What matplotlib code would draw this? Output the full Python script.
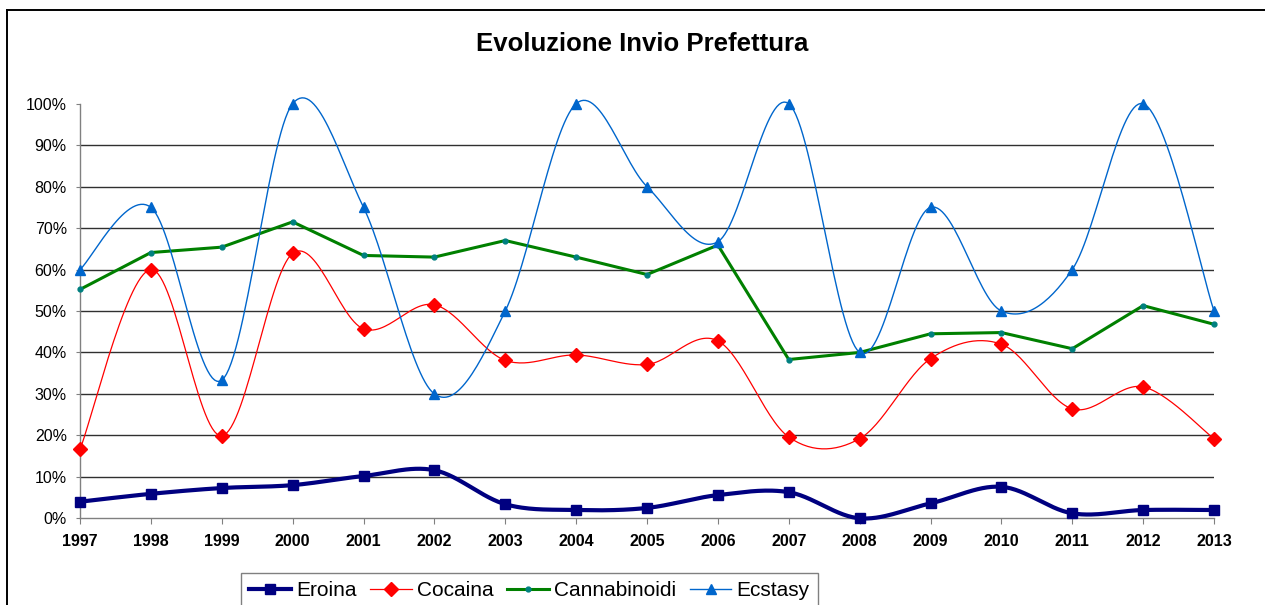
import numpy as np
import matplotlib
matplotlib.use('Agg')
import matplotlib.pyplot as plt
from matplotlib.lines import Line2D

plt.rcParams['font.family'] = ['Liberation Sans', 'DejaVu Sans']

# data (fractions)
years = [1997, 1998, 1999, 2000, 2001, 2002, 2003, 2004, 2005,
         2006, 2007, 2008, 2009, 2010, 2011, 2012, 2013]
eroina = [0.040, 0.059, 0.073, 0.080, 0.102, 0.116, 0.034, 0.020, 0.025,
          0.056, 0.063, 0.000, 0.036, 0.076, 0.012, 0.020, 0.020]
cocaina = [0.166, 0.600, 0.199, 0.639, 0.457, 0.515, 0.381, 0.394, 0.371,
           0.428, 0.196, 0.192, 0.385, 0.420, 0.264, 0.317, 0.192]
cannabinoidi = [0.552, 0.641, 0.654, 0.715, 0.634, 0.630, 0.670, 0.630, 0.588,
                0.659, 0.383, 0.400, 0.445, 0.448, 0.409, 0.513, 0.468]
ecstasy = [0.600, 0.750, 0.333, 1.000, 0.750, 0.300, 0.500, 1.000, 0.800,
           0.667, 1.000, 0.400, 0.750, 0.500, 0.600, 1.000, 0.500]

N = 30  # samples per segment for the smoothed lines


def smooth(xs, ys, n=N):
    # catmull-rom style bezier, like Excel "smoothed line"
    p = np.column_stack([xs, ys]).astype(float)
    out = []
    for i in range(len(p) - 1):
        p0 = p[i - 1] if i > 0 else p[i]
        p1, p2 = p[i], p[i + 1]
        p3 = p[i + 2] if i + 2 < len(p) else p[i + 1]
        c1 = p1 + (p2 - p0) / 6
        c2 = p2 - (p3 - p1) / 6
        t = np.linspace(0, 1, n, endpoint=False)[:, None]
        seg = ((1 - t) ** 3 * p1 + 3 * (1 - t) ** 2 * t * c1
               + 3 * (1 - t) * t ** 2 * c2 + t ** 3 * p2)
        out.append(seg)
    out.append(p[-1:])
    res = np.vstack(out)
    return res[:, 0], res[:, 1]


fig = plt.figure(figsize=(12.65, 6.05), dpi=100)
ax = fig.add_axes([80 / 1265, 1 - 518.3 / 605, 1134 / 1265, 414.6 / 605])

marks = list(range(0, N * (len(years) - 1) + 1, N))

sx, sy = smooth(years, eroina)
ax.plot(sx, sy, color='#000080', lw=3, marker='s', ms=6.5, markevery=marks,
        label='Eroina', clip_on=False, zorder=3)
sx, sy = smooth(years, cocaina)
ax.plot(sx, sy, color='#FF0000', lw=0.9, marker='D', ms=7, markevery=marks,
        label='Cocaina', clip_on=False, zorder=4)
ax.plot(years, cannabinoidi, color='#008000', lw=2.2, marker='o', ms=3.5,
        mfc='#008080', mec='#008080', label='Cannabinoidi', clip_on=False, zorder=5)
sx, sy = smooth(years, ecstasy)
ax.plot(sx, sy, color='#0066CC', lw=1, marker='^', ms=7.5, markevery=marks,
        label='Ecstasy', clip_on=False, zorder=6)

ax.set_xlim(1997, 2013)
ax.set_ylim(0, 1)
ax.set_xticks(years)
ax.set_xticklabels([str(y) for y in years], fontweight='bold', fontsize=11.5)
ax.set_yticks(np.arange(0, 1.01, 0.1))
ax.set_yticklabels(['%d%%' % round(v * 100) for v in np.arange(0, 1.01, 0.1)], fontsize=11.5)

ax.grid(axis='y', color='#303030', lw=1)
glines = ax.yaxis.get_gridlines()
glines[0].set_visible(False)
glines[-1].set_visible(False)
ax.set_axisbelow(True)

for s in ['top', 'right']:
    ax.spines[s].set_visible(False)
for s in ['left', 'bottom']:
    ax.spines[s].set_color('#808080')
    ax.spines[s].set_linewidth(1)
ax.tick_params(axis='y', direction='out', length=3, color='#808080', pad=6.5)
ax.tick_params(axis='x', direction='out', length=4, color='#808080', pad=7.5)

fig.text(642.5 / 1265, 1 - 44 / 605, 'Evoluzione Invio Prefettura',
         ha='center', va='center', fontsize=18.5, fontweight='bold')

# outer chart frame (top and left edges visible)
fig.add_artist(Line2D([7.5 / 1265, 7.5 / 1265], [0, 1 - 10 / 605],
                      transform=fig.transFigure, color='black', lw=1.4))
fig.add_artist(Line2D([7.5 / 1265, 1], [1 - 10 / 605, 1 - 10 / 605],
                      transform=fig.transFigure, color='black', lw=1.4))

leg = fig.legend(loc='upper left', bbox_to_anchor=(241 / 1265, 1 - 572.7 / 605),
                 ncol=4, fontsize=15, handlelength=2.0, handletextpad=0.25,
                 columnspacing=0.65, borderpad=0.4, borderaxespad=0,
                 fancybox=False, framealpha=1, edgecolor='#808080')
leg.get_frame().set_linewidth(1)

fig.savefig('out.png', dpi=100)
